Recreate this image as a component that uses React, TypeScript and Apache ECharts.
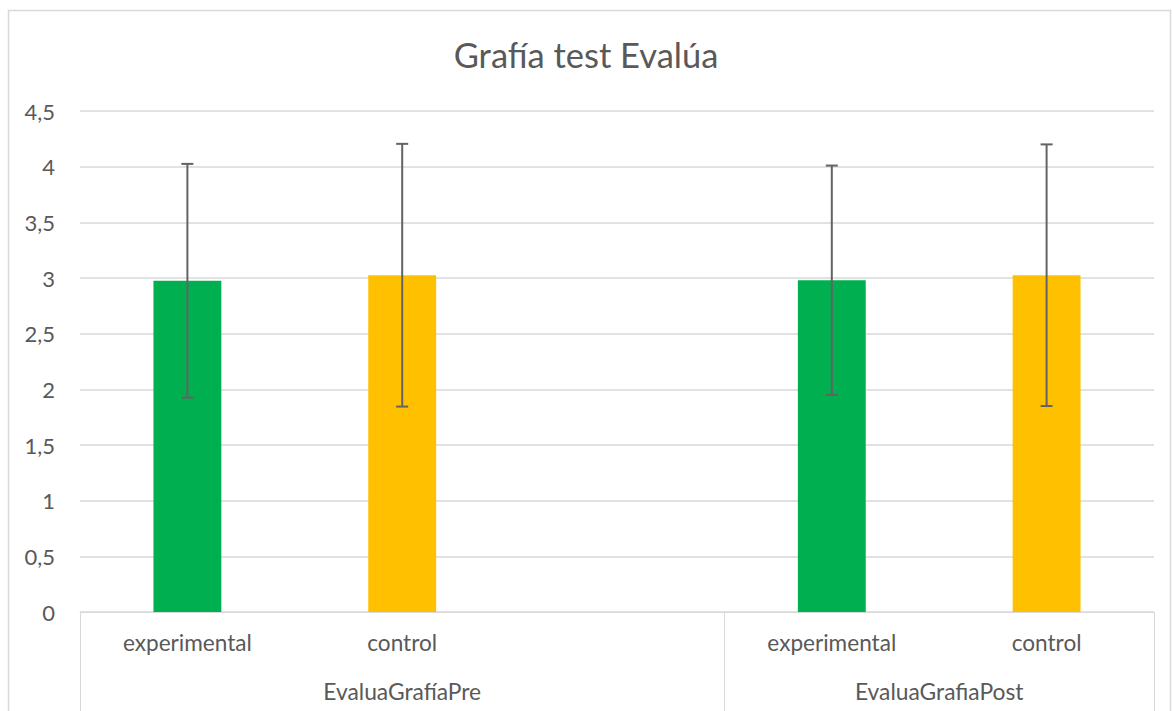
import React, { useEffect, useRef } from "react";
import * as echarts from "echarts";

const categories = ["experimental", "control", "", "experimental", "control"];
const means: (number | null)[] = [2.975, 3.025, null, 2.98, 3.025];
const errors: (number | null)[] = [1.05, 1.18, null, 1.03, 1.175];
const barColors = ["#00B050", "#FFC000", "#FFFFFF", "#00B050", "#FFC000"];
const groupNames = ["EvaluaGrafíaPre", "EvaluaGrafiaPost"];
const groupSpans = [3, 2];
const yTicks = [0, 0.5, 1, 1.5, 2, 2.5, 3, 3.5, 4, 4.5];

const FONT = "Lato, 'Open Sans', sans-serif";
const TEXT = "#595959";
const GRID = "#d9d9d9";

export default function App() {
  const ref = useRef<HTMLDivElement>(null);
  useEffect(() => {
    if (!ref.current) return;
    const chart = echarts.init(ref.current, undefined, { renderer: "svg" });

    const boundaries: number[] = [0];
    const centers: number[] = [];
    let acc = 0;
    groupSpans.forEach((s) => {
      centers.push(acc + s / 2);
      acc += s;
      boundaries.push(acc);
    });

    const errData = means
      .map((m, i) =>
        m == null || errors[i] == null ? null : [i, m - (errors[i] as number), m + (errors[i] as number)]
      )
      .filter((d) => d != null);

    chart.setOption({
      animation: false,
      backgroundColor: "#ffffff",
      title: {
        text: "Grafía test Evalúa",
        left: "center",
        top: 32,
        textStyle: { fontFamily: FONT, fontSize: 34.5, fontWeight: "normal", color: TEXT },
      },
      grid: { left: 80, right: 18, top: 111, bottom: 99, containLabel: false },
      xAxis: [
        {
          type: "category",
          data: categories,
          axisLine: { show: true, lineStyle: { color: GRID, width: 1 } },
          axisTick: { show: false },
          axisLabel: { interval: 0, margin: 19, fontFamily: FONT, fontSize: 22.6, color: TEXT },
          splitLine: { show: false },
        },
        {
          type: "value",
          min: 0,
          max: categories.length,
          position: "bottom",
          axisLine: { show: false },
          splitLine: { show: false },
          axisTick: {
            show: true,
            customValues: boundaries,
            length: 100,
            lineStyle: { color: GRID, width: 1 },
          },
          axisLabel: {
            show: true,
            customValues: centers,
            margin: 67,
            fontFamily: FONT,
            fontSize: 22.8,
            color: TEXT,
            formatter: (v: number) => {
              const idx = centers.findIndex((c) => Math.abs(c - v) < 1e-6);
              return idx >= 0 ? groupNames[idx] : "";
            },
          },
        },
      ],
      yAxis: {
        type: "value",
        min: 0,
        max: 4.5,
        interval: 0.5,
        axisLine: { show: false },
        axisTick: { show: false },
        splitLine: { show: true, lineStyle: { color: GRID, width: 1.5 } },
        axisLabel: {
          margin: 25,
          fontFamily: FONT,
          fontSize: 22,
          color: TEXT,
          formatter: (v: number) => (yTicks.includes(v) ? String(v).replace(".", ",") : ""),
        },
      },
      series: [
        {
          type: "bar",
          xAxisIndex: 0,
          barWidth: "31.6%",
          data: means.map((m, i) => ({ value: m, itemStyle: { color: barColors[i] } })),
        },
        {
          type: "custom",
          xAxisIndex: 0,
          data: errData,
          encode: { x: 0, y: [1, 2] },
          z: 10,
          renderItem: (params: any, api: any) => {
            const x = api.value(0);
            const lo = api.coord([x, api.value(1)]);
            const hi = api.coord([x, api.value(2)]);
            const cap = 6;
            const style = { stroke: "#636363", lineWidth: 2 };
            return {
              type: "group",
              children: [
                { type: "line", shape: { x1: lo[0], y1: lo[1], x2: hi[0], y2: hi[1] }, style },
                { type: "line", shape: { x1: hi[0] - cap, y1: hi[1], x2: hi[0] + cap, y2: hi[1] }, style },
                { type: "line", shape: { x1: lo[0] - cap, y1: lo[1], x2: lo[0] + cap, y2: lo[1] }, style },
              ],
            };
          },
        },
      ],
      graphic: [
        {
          type: "rect",
          shape: { x: 8.5, y: 10.5, width: 1162, height: 720 },
          style: { fill: "none", stroke: GRID, lineWidth: 1.5 },
          silent: true,
        },
      ],
    });
    return () => chart.dispose();
  }, []);
  return (
    <div
      ref={ref}
      style={{ position: "fixed", left: 0, top: 0, width: 1172, height: 711, background: "#fff" }}
    />
  );
}
